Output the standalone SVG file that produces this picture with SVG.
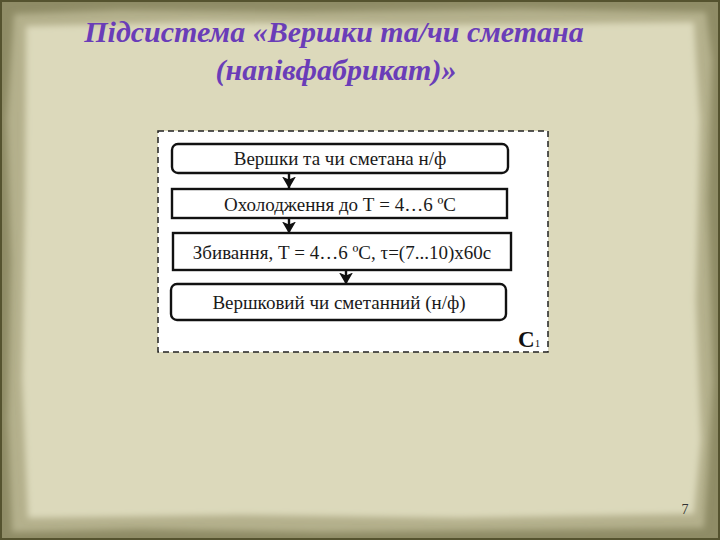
<svg xmlns="http://www.w3.org/2000/svg" width="720" height="540" viewBox="0 0 720 540">
<defs>
<filter id="soft" x="-5%" y="-5%" width="110%" height="110%"><feGaussianBlur stdDeviation="3"/></filter>
<marker id="ah" viewBox="0 0 12 14" refX="11.5" refY="7" markerWidth="12" markerHeight="14" markerUnits="userSpaceOnUse" orient="auto">
<path d="M0,0 L12,7 L0,14 L3,7 Z" fill="#111"/>
</marker>
<style>
.box{fill:#fff;stroke:#111;stroke-width:2.4}
.lbl{font-family:"Liberation Serif",serif;font-size:19px;fill:#1a1a1a;text-anchor:middle}
.title{font-family:"Liberation Serif",serif;font-style:italic;font-weight:bold;font-size:30px;fill:#6a3db8;text-anchor:middle}
.conn line{stroke:#111;stroke-width:2.4}
</style>
</defs>
<rect x="0" y="0" width="720" height="540" fill="#8f8c66"/>
<path d="M14,14 L120,10 L300,12 L520,9 L706,12 L712,60 L708,200 L713,380 L708,470 L704,528 L520,530 L320,532 L140,529 L12,532 L8,420 L11,260 L7,120 Z" fill="#b4b08c" filter="url(#soft)"/>
<path d="M26,26 L200,22 L420,25 L694,22 L700,120 L696,300 L701,440 L694,514 L460,518 L240,515 L28,518 L22,380 L25,200 Z" fill="#dcd9bb" filter="url(#soft)"/>
<rect x="1" y="1" width="718" height="538" fill="none" stroke="#55532f" stroke-width="2"/>
<text class="title" x="334" y="42">Підсистема «Вершки та/чи сметана</text>
<text class="title" x="336" y="80">(напівфабрикат)»</text>
<rect x="158" y="131" width="390" height="221" fill="#fff" stroke="#222" stroke-width="1.5" stroke-dasharray="6,4"/>
<g id="connectors" class="conn">
<line x1="289" y1="173" x2="289" y2="188" marker-end="url(#ah)"/>
<line x1="289" y1="218" x2="289" y2="233" marker-end="url(#ah)"/>
<line x1="346" y1="270" x2="346" y2="284" marker-end="url(#ah)"/>
</g>
<g id="n1"><rect class="box" x="172" y="144" width="336" height="29" rx="6"/><text class="lbl" x="340" y="165">Вершки та чи сметана н/ф</text></g>
<g id="n2"><rect class="box" x="172" y="189" width="335" height="29"/><text class="lbl" x="340" y="211">Охолодження до Т = 4…6 ºС</text></g>
<g id="n3"><rect class="box" x="173" y="233" width="338" height="37"/><text class="lbl" x="342" y="259">Збивання, Т = 4…6 ºС, τ=(7...10)х60с</text></g>
<g id="n4"><rect class="box" x="171" y="284" width="335" height="36" rx="6"/><text class="lbl" x="339" y="309">Вершковий чи сметанний (н/ф)</text></g>
<text x="518" y="347" font-family="Liberation Serif,serif" font-weight="bold" font-size="23" fill="#111">С<tspan font-size="11" font-weight="normal">1</tspan></text>
<text x="685" y="514" font-family="Liberation Serif,serif" font-size="14" fill="#333" text-anchor="middle">7</text>
</svg>
